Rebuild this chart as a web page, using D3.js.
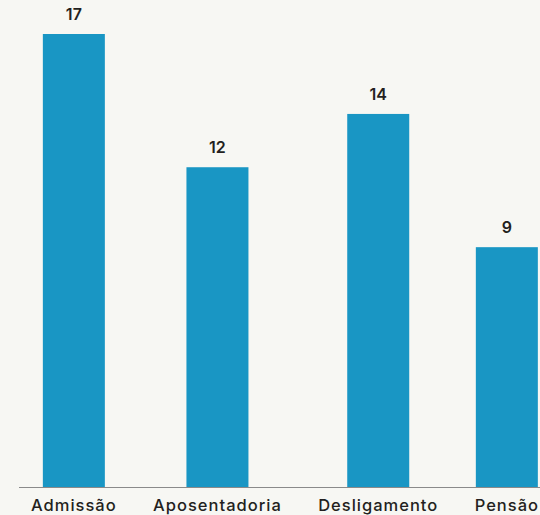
<!DOCTYPE html>
<meta charset="utf-8">
<style>
  body { margin: 0; background: #f7f7f3; }
  text { font-family: Inter, "Noto Sans", sans-serif; fill: #231f20; }
</style>
<script src="https://d3js.org/d3.v7.min.js"></script>
<div id="my_dataviz"></div>
<script>

// data
var categories = ["Admissão", "Aposentadoria", "Desligamento", "Pensão"]
var values = [17, 12, 14, 9]

var width = 540
var height = 515
var baseline = 487
var barWidth = 62

var svg = d3.select("#my_dataviz")
  .append("svg")
    .attr("width", width)
    .attr("height", height)

svg.append("rect")
  .attr("width", width)
  .attr("height", height)
  .attr("fill", "#f7f7f3")

// y scale: values from 0 up to the tallest bar
var y = d3.scaleLinear()
  .domain([0, 17])
  .range([baseline, 34])

// category labels first, laid out like a justified row
var labels = svg.append("g")
  .selectAll("text")
  .data(categories)
  .enter()
  .append("text")
    .attr("y", 511)
    .attr("text-anchor", "middle")
    .style("font-size", "16.5px")
    .style("font-weight", 500)
    .style("letter-spacing", "1px")
    .text(function(d){ return d })

var widths = []
labels.each(function(){ widths.push(this.getComputedTextLength()) })
var left = 31, right = 539
var gap = (right - left - d3.sum(widths)) / (categories.length - 1)
var centers = []
var pos = left
widths.forEach(function(w){ centers.push(pos + w / 2); pos += w + gap })

var x = d3.scaleOrdinal()
  .domain(categories)
  .range(centers)

labels.attr("x", function(d){ return x(d) })

// axis line
svg.append("line")
  .attr("x1", 19)
  .attr("x2", width)
  .attr("y1", baseline + 0.5)
  .attr("y2", baseline + 0.5)
  .attr("stroke", "#8a8a8a")
  .attr("stroke-width", 1)

// bars
svg.append("g")
  .selectAll("rect")
  .data(values)
  .enter()
  .append("rect")
    .attr("x", function(d, i){ return x(categories[i]) - barWidth / 2 })
    .attr("y", function(d){ return y(d) })
    .attr("width", barWidth)
    .attr("height", function(d){ return baseline - y(d) })
    .attr("fill", "#1996c4")

// value labels
svg.append("g")
  .selectAll("text")
  .data(values)
  .enter()
  .append("text")
    .attr("x", function(d, i){ return x(categories[i]) })
    .attr("y", function(d){ return y(d) - 14 })
    .attr("text-anchor", "middle")
    .style("font-size", "16px")
    .style("font-weight", 600)
    .text(function(d){ return d })

</script>
